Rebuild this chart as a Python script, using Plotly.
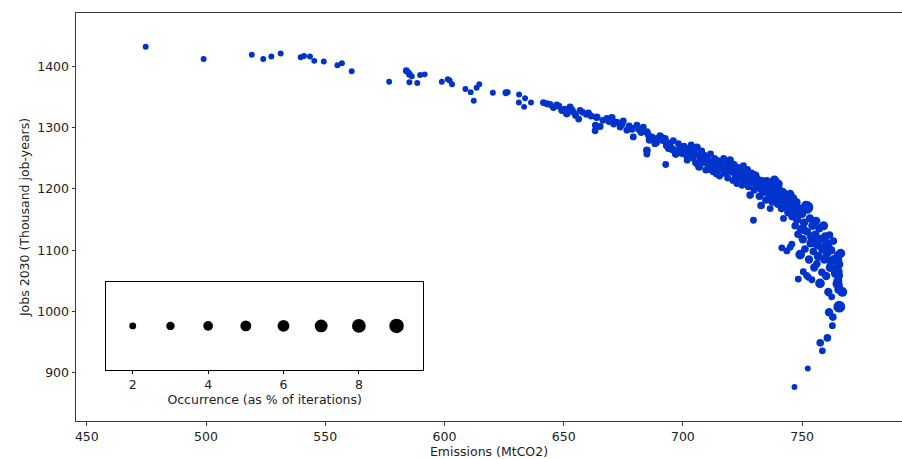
import plotly.graph_objects as go

# Scenario results: emissions (MtCO2), jobs (thousand job-years) and how often
# each outcome occurred (% of iterations)
emissions = [
    474.7, 499.0, 519.2, 524.0, 527.4, 531.3, 539.7, 541.1, 543.6, 545.4,
    549.4, 555.1, 557.0, 561.1, 576.8, 584.0, 585.0, 585.3, 586.3, 585.3,
    588.6, 589.8, 591.7, 598.9, 601.4, 603.2, 602.2, 608.8, 611.0, 612.3,
    613.5, 614.6, 620.3, 625.8, 626.5, 631.3, 633.8, 631.2, 633.4, 636.3,
    641.5, 643.0, 644.3, 645.7, 647.1, 648.0, 649.2, 650.5, 651.3, 652.7,
    653.5, 654.1, 655.0, 656.3, 656.9, 658.0, 659.5, 660.4, 661.5, 663.9,
    663.3, 663.2, 665.3, 666.5, 668.1, 669.0, 670.2, 671.0, 672.3, 673.7,
    674.5, 675.0, 676.5, 677.5, 678.6, 679.2, 680.7, 681.5, 682.5, 683.4,
    684.9, 685.5, 687.0, 684.9, 684.9, 688.3, 689.0, 690.4, 691.5, 692.5,
    692.8, 693.9, 694.5, 696.0, 697.0, 698.1, 699.0,
    700.5, 700.9, 701.4, 701.8, 702.6, 703.1, 703.5, 704.2, 704.8, 705.3,
    705.9, 706.4, 706.8, 707.3, 707.9, 708.4, 709.0, 709.6, 710.1, 710.7,
    711.0, 711.6, 712.2, 712.7, 713.3, 713.8, 714.2, 714.8, 715.4, 716.0,
    716.5, 717.1, 717.6, 718.2, 718.8, 719.3, 719.8, 720.4, 721.0, 721.5,
    722.1, 722.6, 723.2, 723.7, 724.3, 724.8, 725.4, 725.9, 726.5, 727.1,
    727.6, 728.2, 728.2, 728.8, 729.3, 729.6, 729.9, 730.4, 731.0, 731.5,
    732.1, 732.6, 732.8, 733.2, 733.7, 734.3, 734.8, 735.4, 735.9, 736.5,
    736.6, 737.0, 737.6, 738.1, 738.7, 739.2, 739.8, 740.3, 740.9, 741.4,
    742.0, 742.2, 742.5, 743.1, 743.6, 744.2, 744.7,
    745.0, 745.3, 745.7, 745.0, 745.8, 746.2, 746.6, 746.8, 747.1, 747.5,
    747.9, 748.4, 748.3, 748.8, 749.2, 749.4, 749.9, 750.3, 750.5, 750.8,
    751.2, 751.6, 751.9, 752.0, 752.2, 752.4, 752.6, 752.9, 753.3, 753.7,
    754.1, 754.3, 754.7, 755.1, 755.5, 755.9, 756.2, 756.4, 756.8, 757.2,
    757.5, 757.6, 757.9, 758.3, 758.5, 758.6, 759.0, 759.3, 759.7, 760.1,
    760.4, 760.6, 760.8, 761.0, 761.3, 761.5, 761.8, 762.2, 762.4, 762.7,
    762.9, 763.1, 763.4, 763.8, 764.5, 765.2, 765.0, 765.4, 765.1, 765.3,
    765.0, 765.2, 765.4, 765.6, 766.9, 766.2, 741.5, 743.6,
    # additional outcomes filling the dense part of the front
    686.0, 688.8, 691.0, 693.2, 695.5, 697.6, 699.6, 702.0, 706.2, 710.4,
    714.0, 718.6, 722.8, 726.9, 730.8, 734.0, 737.3, 740.6, 743.8, 746.5,
    748.6, 750.9, 753.8, 756.6, 759.4, 761.9, 764.0, 738.4, 735.2, 740.0,
]
jobs = [
    1432, 1412, 1419, 1412, 1416, 1421, 1415, 1417, 1416, 1409,
    1408, 1402, 1405, 1392, 1375, 1393, 1390, 1387, 1384, 1374,
    1373, 1386, 1387, 1375, 1379, 1371, 1377, 1363, 1358, 1344,
    1365, 1371, 1357, 1357, 1358, 1354, 1348, 1341, 1334, 1341,
    1341, 1339, 1338, 1333, 1337, 1335, 1328, 1330, 1323, 1334,
    1329, 1325, 1320, 1314, 1328, 1325, 1322, 1324, 1319, 1317,
    1304, 1295, 1302, 1312, 1315, 1310, 1316, 1306, 1309, 1301,
    1305, 1311, 1296, 1303, 1298, 1285, 1304, 1297, 1292, 1301,
    1293, 1288, 1285, 1263, 1257, 1274, 1282, 1287, 1279, 1282,
    1240, 1266, 1274, 1279, 1257, 1274, 1268,
    1270, 1262, 1255, 1247, 1266, 1258, 1272, 1251, 1262, 1243,
    1268, 1256, 1236, 1249, 1262, 1244, 1255, 1231, 1249, 1238,
    1233, 1257, 1244, 1228, 1250, 1238, 1225, 1246, 1221, 1240,
    1232, 1250, 1226, 1243, 1218, 1236, 1247, 1229, 1214, 1240,
    1223, 1209, 1234, 1218, 1228, 1206, 1238, 1213, 1224, 1232,
    1204, 1190, 1218, 1226, 1211, 1149, 1198, 1222, 1207, 1216,
    1188, 1201, 1173, 1212, 1195, 1205, 1182, 1208, 1198, 1190,
    1168, 1203, 1180, 1196, 1206, 1186, 1176, 1199, 1190, 1168,
    1194, 1152, 1183, 1175, 1189, 1162, 1181,
    1192, 1172, 1110, 1105, 1155, 1185, 1164, 877, 1140, 1178,
    1150, 1053, 1126, 1168, 1093, 1135, 1160, 1118, 1065, 1145,
    1102, 1174, 1059, 1170, 1130, 907, 1056, 1085, 1152, 1112,
    1052, 1140, 1098, 1072, 1125, 1148, 1078, 1108, 1090, 1136,
    1046, 949, 1118, 1064, 936, 1102, 1140, 1085, 1122, 1058,
    1094, 957, 1110, 1032, 999, 1125, 1072, 1100, 1024, 977,
    991, 1115, 1085, 1062, 1045, 1092, 1083, 1077, 1066, 1059,
    1050, 1043, 1036, 1008, 1032, 1095, 1104, 1099,
    1280, 1276, 1284, 1271, 1265, 1262, 1259, 1252, 1241, 1243,
    1236, 1231, 1216, 1221, 1213, 1198, 1187, 1183, 1170, 1176,
    1158, 1133, 1122, 1116, 1106, 1082, 1070, 1214, 1212, 1208,
]
occurrence = [
    1.5, 1.5, 1.5, 1.5, 1.5, 1.5, 1.5, 1.5, 1.5, 1.5,
    1.5, 1.5, 1.5, 1.5, 1.5, 2.0, 1.5, 2.0, 1.5, 1.5,
    1.5, 1.5, 1.5, 1.5, 1.5, 1.5, 1.5, 1.5, 1.5, 1.5,
    1.5, 1.5, 1.5, 2.0, 1.5, 1.5, 1.5, 1.5, 1.5, 1.5,
    2.0, 2.0, 2.0, 2.0, 2.0, 2.0, 2.0, 2.0, 2.5, 2.0,
    2.0, 2.0, 2.0, 2.0, 2.0, 2.0, 2.0, 2.0, 2.0, 2.5,
    2.0, 2.0, 2.0, 2.0, 2.0, 2.0, 2.5, 2.0, 2.0, 2.0,
    2.0, 2.0, 2.0, 2.0, 2.5, 2.0, 2.0, 2.0, 2.0, 2.0,
    2.5, 2.0, 2.0, 2.5, 2.0, 2.0, 2.5, 2.0, 2.0, 2.5,
    2.0, 2.0, 2.5, 2.0, 2.5, 2.0, 2.5,
    2.0, 2.5, 2.0, 2.0, 2.5, 2.0, 2.0, 2.5, 2.0, 2.0,
    2.5, 2.0, 2.5, 2.0, 2.0, 3.0, 2.0, 2.0, 2.5, 2.0,
    3.0, 2.0, 2.5, 2.0, 2.0, 3.0, 2.5, 2.0, 2.0, 2.5,
    2.0, 2.0, 2.5, 3.0, 2.0, 2.0, 2.5, 3.0, 2.0, 2.0,
    2.5, 2.0, 3.0, 2.5, 3.0, 2.0, 2.0, 2.5, 3.5, 2.0,
    2.5, 2.5, 3.0, 2.0, 3.5, 2.0, 2.0, 3.0, 2.5, 2.0,
    2.5, 3.0, 2.5, 3.5, 3.0, 3.5, 2.5, 2.0, 3.5, 3.5,
    2.0, 4.0, 3.5, 3.5, 2.5, 4.0, 3.0, 3.5, 3.0, 2.5,
    3.5, 2.0, 3.5, 3.0, 2.5, 3.0, 3.5,
    3.0, 3.0, 2.0, 2.0, 2.5, 3.0, 2.5, 1.5, 2.5, 3.5,
    3.0, 2.0, 2.5, 3.0, 4.0, 2.5, 3.5, 3.0, 2.0, 3.0,
    2.5, 3.0, 2.0, 7.0, 2.5, 1.5, 2.0, 3.0, 3.0, 3.5,
    2.0, 3.0, 2.5, 3.0, 3.5, 3.0, 2.5, 3.0, 3.5, 3.0,
    4.0, 2.5, 3.0, 2.5, 2.0, 3.5, 3.5, 3.0, 3.5, 3.0,
    3.0, 2.5, 3.5, 3.0, 3.0, 2.5, 3.5, 3.0, 2.0, 2.0,
    2.5, 2.5, 3.5, 3.0, 3.0, 3.5, 3.5, 3.5, 3.5, 3.5,
    3.5, 3.5, 3.5, 6.0, 4.0, 3.5, 2.0, 2.0,
    2.5, 2.5, 2.5, 2.5, 3.0, 2.5, 3.0, 2.5, 3.0, 3.0,
    3.0, 3.0, 3.0, 3.0, 3.5, 3.5, 3.5, 3.5, 3.0, 3.0,
    3.0, 3.0, 3.0, 3.0, 3.0, 3.0, 3.0, 4.0, 3.5, 3.5,
]

# Reference dots for the size key
key_occurrence = [2, 3, 4, 5, 6, 7, 8, 9]
key_ticks = [2, 4, 6, 8]

x_ticks = [450, 500, 550, 600, 650, 700, 750]
y_ticks = [900, 1000, 1100, 1200, 1300, 1400]

BLUE = "#0033cc"
SIZEREF = 0.085          # area-mode bubble scale shared by data and key
FONT = dict(family="DejaVu Sans", size=12.5, color="#222222")
SPINE = "#3a3a3a"

fig = go.Figure()

fig.add_trace(go.Scatter(
    x=emissions, y=jobs, mode="markers",
    marker=dict(size=occurrence, sizemode="area", sizeref=SIZEREF,
                color=BLUE, line=dict(width=0), opacity=1),
    xaxis="x", yaxis="y", showlegend=False,
))

fig.add_trace(go.Scatter(
    x=key_occurrence, y=[0] * len(key_occurrence), mode="markers",
    marker=dict(size=key_occurrence, sizemode="area", sizeref=SIZEREF,
                color="black", line=dict(width=0), opacity=1),
    xaxis="x2", yaxis="y2", showlegend=False,
))

fig.update_layout(
    width=902, height=459,
    margin=dict(l=76, r=0, t=12.6, b=38.3, autoexpand=False),
    paper_bgcolor="white", plot_bgcolor="white",
    font=FONT,
    xaxis=dict(
        range=[445.47, 791.9], tickvals=x_ticks, ticks="outside",
        ticklen=3.5, tickwidth=1, tickcolor=SPINE,
        showline=True, linecolor=SPINE, linewidth=1, mirror=True,
        showgrid=False, zeroline=False, automargin=False,
        title=dict(text="Emissions (MtCO2)", font=FONT, standoff=2),
    ),
    yaxis=dict(
        range=[821.5, 1487.1], tickvals=y_ticks, ticks="outside",
        ticklen=3.5, tickwidth=1, tickcolor=SPINE,
        showline=True, linecolor=SPINE, linewidth=1, mirror=False,
        showgrid=False, zeroline=False, automargin=False,
        title=dict(text="Jobs 2030 (Thousand job-years)", font=FONT, standoff=4),
    ),
    xaxis2=dict(
        domain=[0.0363, 0.4205], anchor="y2",
        range=[1.29, 9.71], tickvals=key_ticks, ticks="outside",
        ticklen=3.5, tickwidth=1, tickcolor="black",
        showline=True, linecolor="black", linewidth=1, mirror=True,
        showgrid=False, zeroline=False, automargin=False,
        title=dict(text="Occurrence (as % of iterations)", font=FONT, standoff=1),
    ),
    yaxis2=dict(
        domain=[0.1255, 0.3406], anchor="x2",
        range=[-1, 1], showticklabels=False, ticks="",
        showline=True, linecolor="black", linewidth=1, mirror=True,
        showgrid=False, zeroline=False, automargin=False,
    ),
)

fig.write_html("out.html")
